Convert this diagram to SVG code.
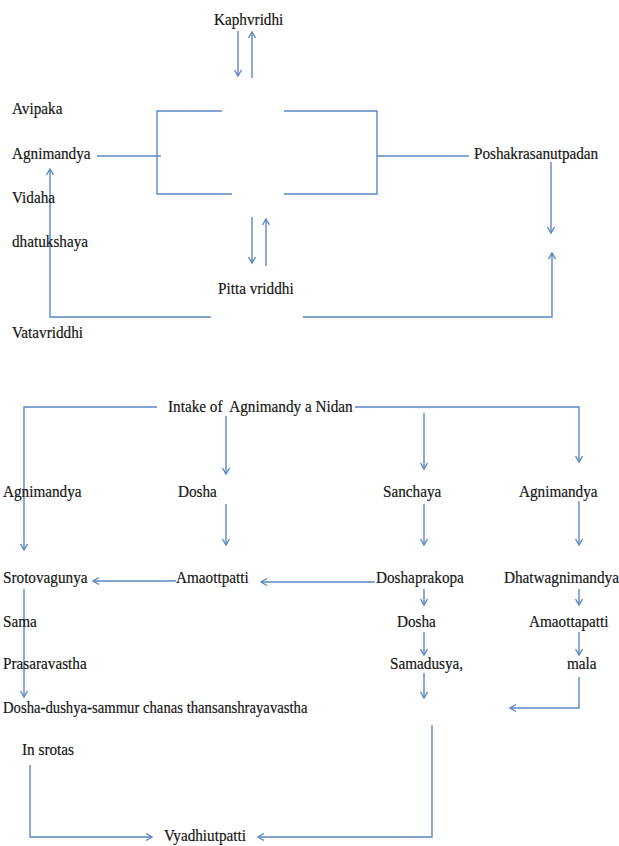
<svg xmlns="http://www.w3.org/2000/svg" width="619" height="846" viewBox="0 0 619 846">
<style>
text{font-family:'Liberation Serif','Times New Roman','DejaVu Serif',serif;font-size:17.5px;fill:#151515;stroke:#151515;stroke-width:0.2}
.c{fill:none;stroke:#5b86c3;stroke-width:1.4}
.a{marker-end:url(#ah)}
</style>
<defs>
<marker id="ah" viewBox="-8 -5 9 10" refX="0" refY="0" markerWidth="9" markerHeight="10" markerUnits="userSpaceOnUse" orient="auto">
<path d="M-6,-3.5 L0,0 L-6,3.5" fill="none" stroke="#5b86c3" stroke-width="1.4"/>
</marker>
</defs>
<rect width="619" height="846" fill="#fff"/>
<g id="connectors">
<path class="c a" d="M238,31 V76"/>
<path class="c a" d="M252,78 V32"/>
<path class="c" d="M97,156 H161"/>
<path class="c" d="M222,111 H157 V194 H232"/>
<path class="c" d="M284,111 H377 V194 H284"/>
<path class="c" d="M377,156 H469"/>
<path class="c a" d="M551,162 V233"/>
<path class="c a" d="M303,317 H552 V253"/>
<path class="c a" d="M211,317 H50 V169"/>
<path class="c a" d="M252,217 V263"/>
<path class="c a" d="M266,266 V219"/>
<path class="c a" d="M157,407 H24 V550"/>
<path class="c a" d="M355,407 H579 V462"/>
<path class="c a" d="M226,416 V474"/>
<path class="c a" d="M424,413 V469"/>
<path class="c a" d="M226,504 V545"/>
<path class="c a" d="M424,504 V545"/>
<path class="c a" d="M579,501 V545"/>
<path class="c a" d="M176,581 H93"/>
<path class="c a" d="M375,582 H261"/>
<path class="c a" d="M424,589 V605"/>
<path class="c a" d="M579,589 V605"/>
<path class="c a" d="M24,589 V697"/>
<path class="c a" d="M424,632 V655"/>
<path class="c a" d="M579,632 V655"/>
<path class="c a" d="M424,673 V698"/>
<path class="c a" d="M579,677 V708 H510"/>
<path class="c a" d="M30,765 V837 H152"/>
<path class="c a" d="M432,725 V837 H258"/>
</g>
<g id="kaphvridhi"><text transform="translate(214 25) scale(0.87 1)">Kaphvridhi</text></g>
<g id="avipaka"><text transform="translate(12 114) scale(0.87 1)">Avipaka</text></g>
<g id="agnimandya-top"><text transform="translate(12 159) scale(0.87 1)">Agnimandya</text></g>
<g id="poshakrasanutpadan"><text transform="translate(474 159) scale(0.87 1)">Poshakrasanutpadan</text></g>
<g id="vidaha"><text transform="translate(12 203) scale(0.87 1)">Vidaha</text></g>
<g id="dhatukshaya"><text transform="translate(12 247) scale(0.87 1)">dhatukshaya</text></g>
<g id="pitta-vriddhi"><text transform="translate(218 294) scale(0.87 1)">Pitta vriddhi</text></g>
<g id="vatavriddhi"><text transform="translate(12 338) scale(0.87 1)">Vatavriddhi</text></g>
<g id="intake"><text transform="translate(168 412) scale(0.87 1)" xml:space="preserve">Intake of  Agnimandy a Nidan</text></g>
<g id="agnimandya-left"><text transform="translate(3 497) scale(0.87 1)">Agnimandya</text></g>
<g id="dosha-1"><text transform="translate(178 497) scale(0.87 1)">Dosha</text></g>
<g id="sanchaya"><text transform="translate(383 497) scale(0.87 1)">Sanchaya</text></g>
<g id="agnimandya-right"><text transform="translate(519 497) scale(0.87 1)">Agnimandya</text></g>
<g id="srotovagunya"><text transform="translate(3 583) scale(0.87 1)">Srotovagunya</text></g>
<g id="amaottpatti"><text transform="translate(176 583) scale(0.87 1)">Amaottpatti</text></g>
<g id="doshaprakopa"><text transform="translate(376 583) scale(0.87 1)">Doshaprakopa</text></g>
<g id="dhatwagnimandya"><text transform="translate(504 583) scale(0.87 1)">Dhatwagnimandya</text></g>
<g id="sama"><text transform="translate(3 627) scale(0.87 1)">Sama</text></g>
<g id="dosha-2"><text transform="translate(397 627) scale(0.87 1)">Dosha</text></g>
<g id="amaottapatti"><text transform="translate(529 627) scale(0.87 1)">Amaottapatti</text></g>
<g id="prasaravastha"><text transform="translate(3 669) scale(0.87 1)">Prasaravastha</text></g>
<g id="samadusya"><text transform="translate(390 669) scale(0.87 1)">Samadusya,</text></g>
<g id="mala"><text transform="translate(567 669) scale(0.87 1)">mala</text></g>
<g id="sthanasanshraya"><text transform="translate(3 713) scale(0.84 1)">Dosha-dushya-sammur chanas thansanshrayavastha</text></g>
<g id="in-srotas"><text transform="translate(22 755) scale(0.87 1)">In srotas</text></g>
<g id="vyadhiutpatti"><text transform="translate(164 841) scale(0.87 1)">Vyadhiutpatti</text></g>
</svg>
